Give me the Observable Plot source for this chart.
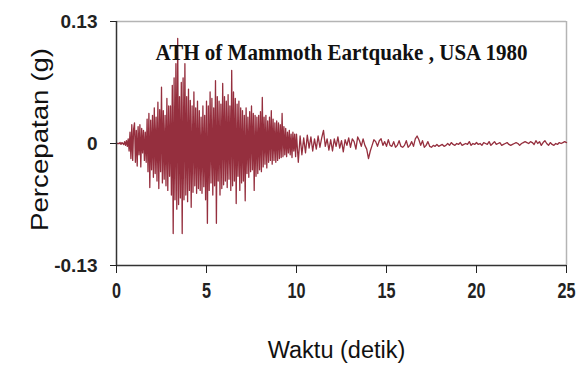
<!DOCTYPE html>
<html><head><meta charset="utf-8">
<script src="https://cdn.jsdelivr.net/npm/d3@7"></script>
<script src="https://cdn.jsdelivr.net/npm/@observablehq/plot@0.6"></script>
<style>body{margin:0;background:#fff} svg{display:block}</style>
</head><body><div id="chart"></div>
<script>
const titleText = "ATH of Mammoth Eartquake , USA 1980";
const xLabel = "Waktu (detik)";
const yLabel = "Percepatan (g)";
const xTicks = [0, 5, 10, 15, 20, 25];
const yTicks = [-0.13, 0, 0.13];
const yTickLabels = ["-0.13", "0", "0.13"];

const dtStrong = 0.05;
const accStrongMilliG = [
  0,0,0,0,1,-1,1,0,-1,2,-2,3,-3,5,-8,12,-16,20,-18,15,
  22,-20,14,-24,18,-12,20,-25,16,-10,14,-18,12,-20,26,-30,32,-47,25,-28,
  30,-36,38,-32,28,-40,44,-48,36,-30,60,-42,35,-38,30,-45,48,-50,40,-35,
  40,-55,62,-96,70,-60,85,-70,112,-65,50,-58,65,-96,70,-60,85,-55,50,-62,
  58,-50,46,-68,40,-52,55,-45,38,-53,45,-48,35,-50,28,-53,40,-46,30,-60,
  45,-85,40,-50,55,-42,48,-55,38,-45,67,-85,50,-40,45,-55,42,-48,64,-44,
  50,-40,45,-47,52,-38,40,-50,78,-45,55,-40,48,-64,42,-35,45,-50,38,-42,
  35,-40,30,-61,38,-32,28,-36,34,-30,40,-28,32,-50,30,-35,28,-32,30,-28,
  34,-30,49,-25,28,-22,30,-26,24,-20,28,-18,35,-22,26,-18,22,-20,24,-18,
  22,-16,20,-15,32,-14,18,-12,16,-14,12,-10,14,-12,10,-15,12,-8,10,-14
];
const dtTail = 0.1;
const accTailMilliG = [
  10,-20,8,-12,6,-10,9,-5,7,-8,
  5,-6,8,-4,6,14,-3,5,-7,4,
  -8,5,-3,7,-5,3,-9,4,-2,6,
  -4,5,2,-6,7,3,-3,5,-2,-6,
  -16,-8,-2,4,2,-3,3,5,-2,2,
  -3,4,-2,-3,2,-4,-2,3,-3,-4,
  -2,3,-4,-2,2,-3,5,8,4,-2,
  3,-4,-2,2,-3,-4,-2,-3,-1,-3,
  -2,-1,-3,-2,0,-2,1,-1,-2,0,
  -1,1,-2,-1,0,-1,2,-2,0,-1,
  1,-1,0,-2,1,0,-1,2,-2,0,
  2,-1,0,1,-2,-1,0,1,-1,-2,
  -1,0,1,0,-2,0,1,2,1,0,
  2,1,-1,3,0,2,-2,1,3,0,
  -2,1,-1,-2,0,-1,1,0,1,2,
  1
];

const data = [
  ...accStrongMilliG.map((a, i) => ({t: +(i * dtStrong).toFixed(2), a: a / 1000})),
  ...accTailMilliG.map((a, i) => ({t: +(10 + i * dtTail).toFixed(2), a: a / 1000}))
];

const sans = "'Liberation Sans', Arial, sans-serif";
const chart = Plot.plot({
  width: 582, height: 365,
  marginLeft: 116, marginRight: 16, marginTop: 21, marginBottom: 100,
  style: {fontFamily: sans, background: "#fff", color: "#222", overflow: "visible"},
  x: {domain: [0, 25]},
  y: {domain: [-0.13, 0.13]},
  marks: [
    Plot.ruleY([0.13], {stroke: "#b4b4b4", strokeWidth: 1.5}),
    Plot.ruleX([25], {stroke: "#b4b4b4", strokeWidth: 1.5}),
    Plot.line(data, {x: "t", y: "a", stroke: "#952f3e", strokeWidth: 1.3}),
    Plot.ruleX([0], {stroke: "#333", strokeWidth: 1.5}),
    Plot.ruleY([-0.13], {stroke: "#333", strokeWidth: 1.5}),
    Plot.axisY({ticks: yTicks, tickSize: 6, tickPadding: 13, fontSize: 19, fontWeight: "bold",
      tickFormat: d => yTickLabels[yTicks.findIndex(v => Math.abs(v - d) < 1e-9)], label: null}),
    Plot.axisX({ticks: xTicks, tickSize: 8, tickPadding: 9, fontSize: 22, fontWeight: "bold", label: null}),
    Plot.text([titleText], {text: d => d, frameAnchor: "top", dy: 31, fontSize: 23, fontWeight: "bold",
      fontFamily: "'Liberation Serif', 'Times New Roman', serif", fill: "#111", lineAnchor: "middle"}),
    Plot.text([xLabel], {text: d => d, frameAnchor: "bottom", dx: -5, dy: 85, fontSize: 23.5, fill: "#111", lineAnchor: "middle"}),
    Plot.text([yLabel], {text: d => d, frameAnchor: "left", textAnchor: "middle", dx: -76, dy: -4, rotate: -90, fontSize: 24, fill: "#111", lineAnchor: "middle"})
  ]
});
document.getElementById("chart").append(chart);

function fit(t, len) { t.setAttribute("textLength", len); t.setAttribute("lengthAdjust", "spacingAndGlyphs"); }
chart.querySelectorAll("text").forEach(t => {
  const s = t.textContent;
  if (s === titleText) fit(t, 372);
  else if (s === yLabel) fit(t, 183);
  else if (t.closest('g[aria-label="x-axis tick label"]')) fit(t, s.length * 9);
});
</script>
</body></html>
